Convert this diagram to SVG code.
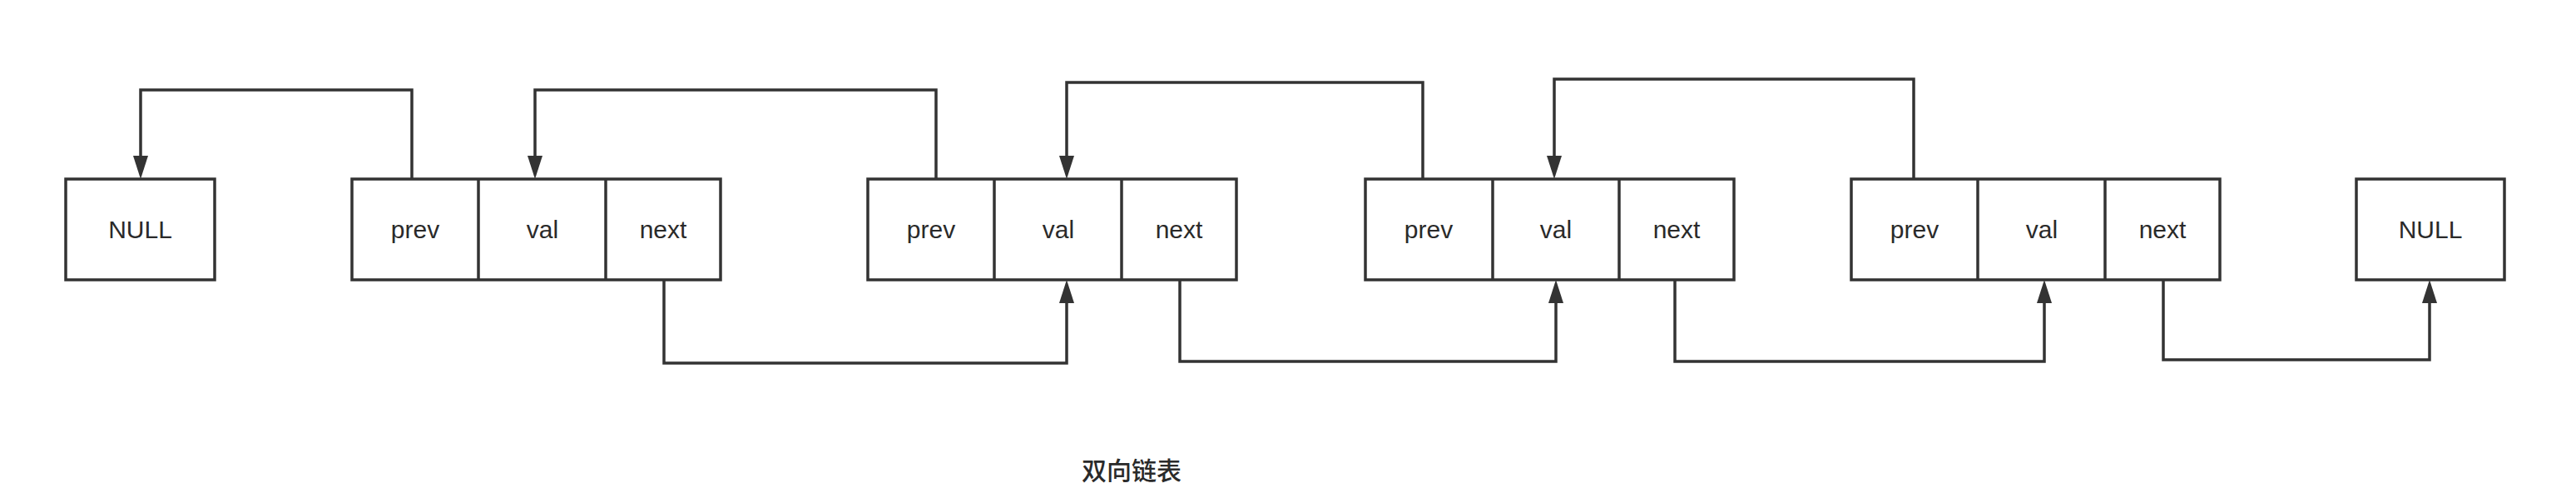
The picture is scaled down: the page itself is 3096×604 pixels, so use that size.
<svg xmlns="http://www.w3.org/2000/svg" width="3096" height="604" viewBox="0 0 3096 604">
<style>
.box{fill:#fff;stroke:#333;stroke-width:3.5}
.div{stroke:#333;stroke-width:3.5}
.lbl{font-family:"Liberation Sans",Arial,sans-serif;font-size:30px;fill:#2a2a2a;text-anchor:middle}
.title{font-family:"Liberation Sans","Noto Sans CJK SC",sans-serif;font-size:30px;font-weight:500;fill:#2a2a2a;text-anchor:middle}
.edge{fill:none;stroke:#333;stroke-width:3.5}
</style>
<defs>
<marker id="arr" markerUnits="userSpaceOnUse" markerWidth="30" markerHeight="20" refX="18" refY="9" orient="auto">
<path d="M0,0 L28,9 L0,18 z" fill="#333"/>
</marker>
</defs>
<rect width="3096" height="604" fill="#fff"/>
<g id="null-left">
<rect class="box" x="79" y="215" width="179" height="121"/>
<text class="lbl" x="168.5" y="286">NULL</text>
</g>
<g id="node1">
<rect class="box" x="423" y="215" width="443" height="121"/>
<line class="div" x1="575" y1="215" x2="575" y2="336"/>
<line class="div" x1="728" y1="215" x2="728" y2="336"/>
<text class="lbl" x="499" y="286">prev</text>
<text class="lbl" x="652" y="286">val</text>
<text class="lbl" x="797" y="286">next</text>
</g>
<g id="node2">
<rect class="box" x="1043" y="215" width="443" height="121"/>
<line class="div" x1="1195" y1="215" x2="1195" y2="336"/>
<line class="div" x1="1348" y1="215" x2="1348" y2="336"/>
<text class="lbl" x="1119" y="286">prev</text>
<text class="lbl" x="1272" y="286">val</text>
<text class="lbl" x="1417" y="286">next</text>
</g>
<g id="node3">
<rect class="box" x="1641" y="215" width="443" height="121"/>
<line class="div" x1="1794" y1="215" x2="1794" y2="336"/>
<line class="div" x1="1946" y1="215" x2="1946" y2="336"/>
<text class="lbl" x="1717" y="286">prev</text>
<text class="lbl" x="1870" y="286">val</text>
<text class="lbl" x="2015" y="286">next</text>
</g>
<g id="node4">
<rect class="box" x="2225" y="215" width="443" height="121"/>
<line class="div" x1="2377" y1="215" x2="2377" y2="336"/>
<line class="div" x1="2530" y1="215" x2="2530" y2="336"/>
<text class="lbl" x="2301" y="286">prev</text>
<text class="lbl" x="2454" y="286">val</text>
<text class="lbl" x="2599" y="286">next</text>
</g>
<g id="null-right">
<rect class="box" x="2832" y="215" width="178" height="121"/>
<text class="lbl" x="2921" y="286">NULL</text>
</g>
<g id="connectors">
<path class="edge" marker-end="url(#arr)" d="M495,215 V108 H169 V205"/>
<path class="edge" marker-end="url(#arr)" d="M1125,215 V108 H643 V205"/>
<path class="edge" marker-end="url(#arr)" d="M798,336 V436 H1282 V346"/>
<path class="edge" marker-end="url(#arr)" d="M1710,215 V99 H1282 V205"/>
<path class="edge" marker-end="url(#arr)" d="M1418,336 V434 H1870 V346"/>
<path class="edge" marker-end="url(#arr)" d="M2300,215 V95 H1868 V205"/>
<path class="edge" marker-end="url(#arr)" d="M2013,336 V434 H2457 V346"/>
<path class="edge" marker-end="url(#arr)" d="M2600,336 V432 H2920 V346"/>
</g>
<text id="title" class="title" x="1360" y="576">双向链表</text>
</svg>
